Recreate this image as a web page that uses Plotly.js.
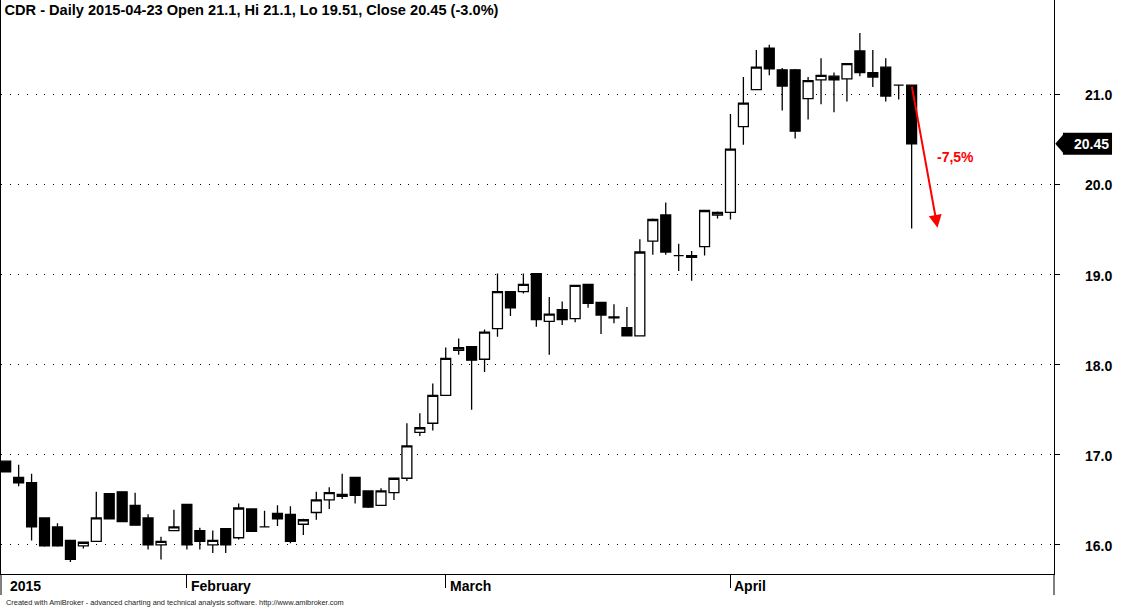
<!DOCTYPE html>
<html>
<head>
<meta charset="utf-8">
<script src="https://cdn.plot.ly/plotly-3.0.1.min.js"></script>
<style>
  html, body { margin: 0; padding: 0; background: #fff; }
  #chart { width: 1123px; height: 609px; }
</style>
</head>
<body>
<div id="chart"></div>
<script>
// ---------- data ----------
var dates = [
  "2015-01-13","2015-01-14","2015-01-15","2015-01-16","2015-01-19","2015-01-20","2015-01-21","2015-01-22","2015-01-23","2015-01-26",
  "2015-01-27","2015-01-28","2015-01-29","2015-01-30","2015-02-02","2015-02-03","2015-02-04","2015-02-05","2015-02-06","2015-02-09",
  "2015-02-10","2015-02-11","2015-02-12","2015-02-13","2015-02-16","2015-02-17","2015-02-18","2015-02-19","2015-02-20","2015-02-23",
  "2015-02-24","2015-02-25","2015-02-26","2015-02-27","2015-03-02","2015-03-03","2015-03-04","2015-03-05","2015-03-06","2015-03-09",
  "2015-03-10","2015-03-11","2015-03-12","2015-03-13","2015-03-16","2015-03-17","2015-03-18","2015-03-19","2015-03-20","2015-03-23",
  "2015-03-24","2015-03-25","2015-03-26","2015-03-27","2015-03-30","2015-03-31","2015-04-01","2015-04-02","2015-04-07","2015-04-08",
  "2015-04-09","2015-04-10","2015-04-13","2015-04-14","2015-04-15","2015-04-16","2015-04-17","2015-04-20","2015-04-21","2015-04-22",
  "2015-04-23"
];
var open = [
  16.93,16.75,16.69,16.30,16.20,16.05,15.99,16.04,16.57,16.59,
  16.44,16.30,16.00,16.16,16.45,16.16,16.00,16.18,16.08,16.40,
  16.20,16.35,16.34,16.23,16.36,16.50,16.56,16.75,16.60,16.44,
  16.58,16.74,17.25,17.35,17.66,18.16,18.20,18.06,18.40,18.81,
  18.81,19.01,18.48,18.61,18.51,18.89,18.69,18.53,18.41,18.32,
  19.37,19.66,19.21,19.21,19.31,19.66,19.69,20.64,21.05,21.51,
  21.27,21.27,20.95,21.16,21.20,21.17,21.48,21.24,21.30,21.10,
  21.10
];
var high = [
  16.93,16.89,16.79,16.30,16.24,16.05,16.03,16.59,16.57,16.59,
  16.58,16.34,16.09,16.39,16.45,16.19,16.16,16.18,16.46,16.40,
  16.38,16.44,16.43,16.29,16.59,16.64,16.79,16.75,16.60,16.63,
  16.74,17.35,17.46,17.79,18.19,18.29,18.20,18.39,19.01,18.81,
  19.01,19.01,18.75,18.70,18.88,18.89,18.69,18.67,18.64,19.39,
  19.62,19.80,19.34,19.26,19.71,19.70,20.78,21.19,21.49,21.55,
  21.29,21.28,21.19,21.40,21.24,21.34,21.68,21.49,21.40,21.10,
  21.10
];
var low = [
  16.81,16.65,16.05,15.98,15.98,15.81,15.96,16.04,16.29,16.26,
  16.22,15.95,15.84,16.16,15.95,15.95,15.91,15.91,16.06,16.15,
  16.20,16.21,16.02,16.11,16.28,16.40,16.51,16.46,16.41,16.44,
  16.50,16.71,17.21,17.27,17.66,18.11,17.50,17.92,18.31,18.54,
  18.79,18.42,18.11,18.44,18.47,18.63,18.34,18.46,18.32,18.32,
  19.22,19.22,19.04,18.93,19.21,19.62,19.61,20.44,21.05,21.21,
  20.82,20.51,20.72,20.89,20.80,20.92,21.20,21.08,20.92,20.94,
  19.51
];
var close = [
  16.81,16.69,16.20,15.99,15.99,15.84,16.03,16.30,16.29,16.26,
  16.22,16.00,16.04,16.20,16.00,16.04,16.05,16.00,16.41,16.15,
  16.20,16.29,16.04,16.28,16.50,16.58,16.54,16.55,16.42,16.60,
  16.74,17.10,17.30,17.66,18.07,18.19,18.05,18.36,18.81,18.63,
  18.89,18.50,18.56,18.50,18.88,18.68,18.55,18.52,18.32,19.25,
  19.61,19.25,19.21,19.19,19.71,19.69,20.39,20.90,21.30,21.28,
  21.09,20.59,21.15,21.21,21.16,21.34,21.24,21.19,20.98,21.10,
  20.45
];
var yTickVals = [16, 17, 18, 19, 20, 21];
var yTickText = ["16.0", "17.0", "18.0", "19.0", "20.0", "21.0"];
var monthTickDates = ["2015-01-13", "2015-02-02", "2015-03-02", "2015-04-01"];
var monthLabels = ["2015", "February", "March", "April"];
var titleText = "CDR - Daily 2015-04-23 Open 21.1, Hi 21.1, Lo 19.51, Close 20.45 (-3.0%)";
var footerText = "Created with AmiBroker - advanced charting and technical analysis software. http://www.amibroker.com";
var dropPct = 7.5;

// ---------- derived ----------
var last = dates.length - 1;
var arrowFromY = open[last];
var arrowToY = open[last] * (1 - dropPct / 100);
var arrowSpan = 2;
var dropLabel = "-" + String(dropPct).replace(".", ",") + "%";

var FONT = "Arial, 'Liberation Sans', sans-serif";

var trace = {
  type: "candlestick",
  x: dates,
  open: open, high: high, low: low, close: close,
  increasing: { line: { color: "#000", width: 1.3 }, fillcolor: "#ffffff" },
  decreasing: { line: { color: "#000", width: 1.3 }, fillcolor: "#000000" },
  whiskerwidth: 0,
  hoverinfo: "skip",
  showlegend: false
};

var annotations = [];
// month labels
for (var i = 0; i < monthLabels.length; i++) {
  annotations.push({
    xref: "x", yref: "paper",
    x: dates.indexOf(monthTickDates[i]), y: 0,
    xanchor: "left", yanchor: "top", xshift: 2, yshift: -2,
    text: monthLabels[i], showarrow: false,
    font: { family: FONT, size: 14, color: "#000", weight: "bold" }
  });
}
// right axis tick labels
for (var k = 0; k < yTickVals.length; k++) {
  annotations.push({
    xref: "paper", yref: "y", x: 1, y: yTickVals[k],
    xanchor: "left", yanchor: "middle", xshift: 29, yshift: -1,
    text: yTickText[k], showarrow: false,
    font: { family: FONT, size: 14, color: "#000", weight: "bold" }
  });
}
// footer
annotations.push({
  xref: "paper", yref: "paper", x: 0, y: -0.0505,
  xanchor: "left", yanchor: "middle", xshift: 3,
  text: footerText, showarrow: false,
  font: { family: FONT, size: 7.4, color: "#222" }
});
// red drop arrow
annotations.push({
  xref: "x", yref: "y", axref: "x", ayref: "y",
  x: last + arrowSpan, y: arrowToY, ax: last, ay: arrowFromY,
  text: "", showarrow: true, arrowcolor: "#ff0000",
  arrowwidth: 2, arrowhead: 2, arrowsize: 1.3, standoff: 0, startstandoff: 0
});
annotations.push({
  xref: "x", yref: "y",
  x: last + 3.4, y: (arrowFromY + arrowToY) / 2,
  text: dropLabel, showarrow: false, xanchor: "center", yanchor: "middle",
  font: { family: FONT, size: 14, color: "#ff0000", weight: "bold" }
});
// last price label text
annotations.push({
  xref: "paper", yref: "y",
  x: 1.0356, y: close[last],
  text: close[last].toFixed(2), showarrow: false,
  xanchor: "center", yanchor: "middle",
  font: { family: FONT, size: 14, color: "#ffffff", weight: "bold" }
});

var halfH = 0.122;
var shapes = [
  // last price box
  { type: "rect", xref: "paper", yref: "y", x0: 1.0085, x1: 1.0551,
    y0: close[last] - halfH, y1: close[last] + halfH,
    fillcolor: "#000", line: { width: 0 } },
  // pointer triangle
  { type: "path", xref: "paper", yref: "y",
    path: "M 1.0012 " + close[last] + " L 1.0090 " + (close[last] + 0.105) +
          " L 1.0090 " + (close[last] - 0.105) + " Z",
    fillcolor: "#000", line: { width: 0 } },
  // border extensions below the x axis
  { type: "line", xref: "paper", yref: "paper", x0: 0, x1: 0, y0: 0, y1: -0.0366,
    line: { color: "#000", width: 1 } },
  { type: "line", xref: "paper", yref: "paper", x0: 1, x1: 1, y0: 0, y1: -0.0366,
    line: { color: "#000", width: 1 } }
];

var layout = {
  width: 1123, height: 609,
  margin: { l: 1, r: 69, t: 0, b: 35, pad: 0 },
  paper_bgcolor: "#ffffff", plot_bgcolor: "#ffffff",
  showlegend: false,
  boxgap: 0.15, boxgroupgap: 0.1,
  title: {
    text: titleText,
    xref: "container", yref: "container",
    x: 0.004, y: 0.984, xanchor: "left", yanchor: "middle",
    font: { family: FONT, size: 14.6, color: "#000", weight: "bold" }
  },
  xaxis: {
    type: "category",
    categoryorder: "array", categoryarray: dates,
    range: [-0.363, 81.0],
    showgrid: false, zeroline: false,
    showline: true, linecolor: "#000", linewidth: 1,
    ticks: "outside", ticklen: 13, tickcolor: "#000", tickwidth: 1,
    tickmode: "array", tickvals: monthTickDates.slice(1), showticklabels: false,
    rangeslider: { visible: false },
    fixedrange: true
  },
  yaxis: {
    side: "right",
    range: [15.678, 22.045],
    showline: true, linecolor: "#000", linewidth: 1, mirror: true,
    ticks: "outside", ticklen: 5, tickcolor: "#000", tickwidth: 1,
    tickmode: "array", tickvals: yTickVals, showticklabels: false,
    showgrid: true, gridcolor: "#000", gridwidth: 1, griddash: "1px,7.67px",
    zeroline: false, fixedrange: true
  },
  annotations: annotations,
  shapes: shapes
};

Plotly.newPlot("chart", [trace], layout, { displayModeBar: false, staticPlot: true });
</script>
</body>
</html>
